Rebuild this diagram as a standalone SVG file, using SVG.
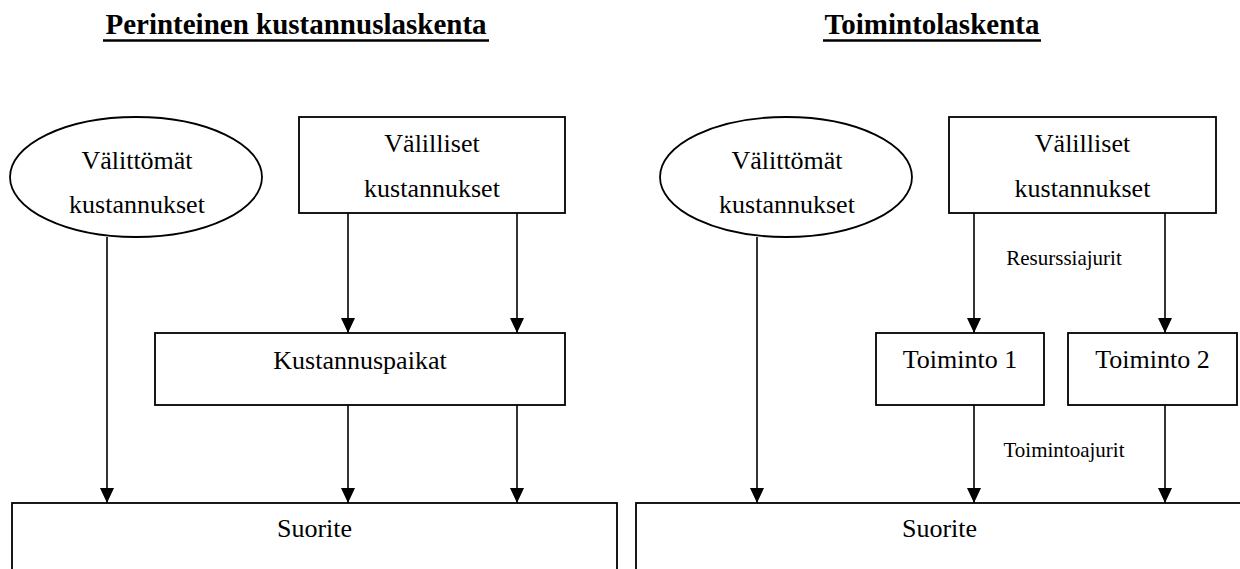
<svg xmlns="http://www.w3.org/2000/svg" width="1240" height="569" viewBox="0 0 1240 569">
  <style>
    .bg { fill: #ffffff; }
    .shape { fill: #ffffff; stroke: #000000; stroke-width: 1.8; }
    .edge { fill: none; stroke: #000000; stroke-width: 1.6; }
    .title { font-family: "Liberation Serif", "Times New Roman", serif; font-size: 29px; font-weight: bold; fill: #000000; text-anchor: middle; }
    .rule { stroke: #000000; stroke-width: 2.4; }
    .label { font-family: "Liberation Serif", "Times New Roman", serif; font-size: 26px; fill: #000000; text-anchor: middle; }
    .note { font-family: "Liberation Serif", "Times New Roman", serif; font-size: 21px; fill: #000000; text-anchor: middle; }
  </style>
  <defs>
    <marker id="arrow" markerUnits="userSpaceOnUse" markerWidth="15" markerHeight="14" refX="15" refY="7" orient="auto">
      <path d="M0,0 L15,7 L0,14 Z" fill="#000000"/>
    </marker>
  </defs>

  <rect class="bg" x="0" y="0" width="1240" height="569"/>

  <!-- Headings -->
  <g id="title-traditional">
    <text class="title" x="296" y="34">Perinteinen kustannuslaskenta</text>
    <line class="rule" x1="103" y1="40.5" x2="489" y2="40.5"/>
  </g>
  <g id="title-abc">
    <text class="title" x="932" y="34">Toimintolaskenta</text>
    <line class="rule" x1="823" y1="40.5" x2="1041" y2="40.5"/>
  </g>

  <!-- Connectors -->
  <g id="connectors">
    <!-- traditional costing -->
    <line class="edge" x1="107" y1="237" x2="107" y2="503" marker-end="url(#arrow)"/>
    <line class="edge" x1="348" y1="213" x2="348" y2="333" marker-end="url(#arrow)"/>
    <line class="edge" x1="517" y1="213" x2="517" y2="333" marker-end="url(#arrow)"/>
    <line class="edge" x1="348" y1="405" x2="348" y2="503" marker-end="url(#arrow)"/>
    <line class="edge" x1="517" y1="405" x2="517" y2="503" marker-end="url(#arrow)"/>
    <!-- activity-based costing -->
    <line class="edge" x1="757" y1="237" x2="757" y2="503" marker-end="url(#arrow)"/>
    <line class="edge" x1="974" y1="213" x2="974" y2="333" marker-end="url(#arrow)"/>
    <line class="edge" x1="1165" y1="213" x2="1165" y2="333" marker-end="url(#arrow)"/>
    <line class="edge" x1="974" y1="405" x2="974" y2="503" marker-end="url(#arrow)"/>
    <line class="edge" x1="1165" y1="405" x2="1165" y2="503" marker-end="url(#arrow)"/>
    <text class="note" x="1064" y="265">Resurssiajurit</text>
    <text class="note" x="1064" y="457">Toimintoajurit</text>
  </g>

  <!-- Traditional costing nodes -->
  <g id="direct-costs-left">
    <ellipse class="shape" cx="136" cy="177" rx="126" ry="60"/>
    <text class="label" x="137" y="169">Välittömät</text>
    <text class="label" x="137" y="213">kustannukset</text>
  </g>
  <g id="indirect-costs-left">
    <rect class="shape" x="299" y="117" width="266" height="96"/>
    <text class="label" x="432" y="152">Välilliset</text>
    <text class="label" x="432" y="197">kustannukset</text>
  </g>
  <g id="cost-centres">
    <rect class="shape" x="155" y="333" width="410" height="72"/>
    <text class="label" x="360" y="369">Kustannuspaikat</text>
  </g>
  <g id="output-left">
    <rect class="shape" x="12" y="503" width="605" height="90"/>
    <text class="label" x="314.5" y="537">Suorite</text>
  </g>

  <!-- Activity-based costing nodes -->
  <g id="direct-costs-right">
    <ellipse class="shape" cx="786" cy="177" rx="126" ry="60"/>
    <text class="label" x="787" y="169">Välittömät</text>
    <text class="label" x="787" y="213">kustannukset</text>
  </g>
  <g id="indirect-costs-right">
    <rect class="shape" x="949" y="117" width="267" height="96"/>
    <text class="label" x="1082.5" y="152">Välilliset</text>
    <text class="label" x="1082.5" y="197">kustannukset</text>
  </g>
  <g id="activity-1">
    <rect class="shape" x="876" y="333" width="168" height="72"/>
    <text class="label" x="960" y="368">Toiminto 1</text>
  </g>
  <g id="activity-2">
    <rect class="shape" x="1068" y="333" width="169" height="72"/>
    <text class="label" x="1152.5" y="368">Toiminto 2</text>
  </g>
  <g id="output-right">
    <rect class="shape" x="636" y="503" width="610" height="90"/>
    <text class="label" x="939.5" y="537">Suorite</text>
  </g>
</svg>
